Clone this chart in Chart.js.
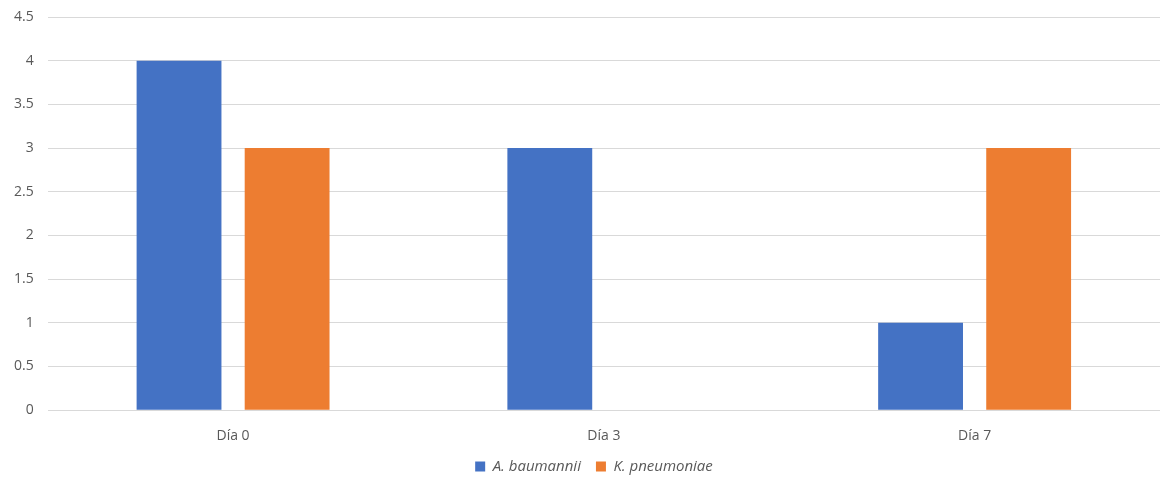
<!DOCTYPE html>
<html>
<head>
<meta charset="utf-8">
<script src="https://cdn.jsdelivr.net/npm/chart.js@4"></script>
<style>
    html, body { margin: 0; padding: 0; background: #fff; }
    #wrap { width: 1160px; height: 477px; overflow: hidden; }
</style>
</head>
<body>
<div id="wrap"><canvas id="barChart"></canvas></div>
<script>
const days = ["Día 0", "Día 3", "Día 7"];
const baumannii = [4, 3, 1];
const pneumoniae = [3, 0, 3];
const yTicks = [0, 0.5, 1, 1.5, 2, 2.5, 3, 3.5, 4, 4.5];

const gridColor = "#d9d9d9";
const textColor = "#595959";

// wide gap between legend items, but a shorter legend box,
// nudged to sit a little right of the canvas centre
const tightLegend = {
    id: "tightLegend",
    beforeInit(chart) {
        const legend = chart.legend;
        if (!legend) return;
        const fit = legend.fit;
        legend.fit = function () {
            fit.call(this);
            this.height -= 7;
        };
    },
    afterLayout(chart) {
        const legend = chart.legend;
        if (!legend) return;
        legend.left += 11;
        legend.right += 11;
    },
};

new Chart(document.getElementById("barChart"), {
    type: "bar",
    data: {
        labels: days,
        datasets: [
            {
                label: "A. baumannii",
                data: baumannii,
                backgroundColor: "#4472c4",
                categoryPercentage: 0.583,
                barPercentage: 0.785,
            },
            {
                label: "K. pneumoniae",
                data: pneumoniae,
                backgroundColor: "#ed7d31",
                categoryPercentage: 0.583,
                barPercentage: 0.785,
            },
        ],
    },
    options: {
        responsive: true,
        maintainAspectRatio: false,
        animation: false,
        layout: {
            autoPadding: false,
            padding: { left: 0, right: -6, top: 17, bottom: 0 },
        },
        plugins: {
            tooltip: { enabled: false },
            legend: {
                position: "bottom",
                labels: {
                    boxWidth: 10,
                    boxHeight: 10,
                    padding: 15,
                    color: textColor,
                    font: { family: "Open Sans", size: 15, style: "italic" },
                },
            },
        },
        scales: {
            x: {
                grid: { display: false },
                border: { display: false },
                afterFit: (scale) => {
                    scale.height -= 9;
                },
                ticks: {
                    color: textColor,
                    padding: 9,
                    font: { family: "Open Sans", size: 14 },
                },
            },
            y: {
                min: 0,
                max: 4.5,
                afterBuildTicks: (axis) => {
                    axis.ticks = yTicks.map((v) => ({ value: v }));
                },
                afterFit: (scale) => {
                    scale.paddingTop = 0;
                },
                grid: { color: gridColor, drawTicks: false },
                border: { display: false },
                ticks: {
                    color: textColor,
                    padding: 14,
                    font: { family: "Open Sans", size: 14 },
                    callback: (v) => String(v),
                },
            },
        },
    },
    plugins: [tightLegend],
});
</script>
</body>
</html>
